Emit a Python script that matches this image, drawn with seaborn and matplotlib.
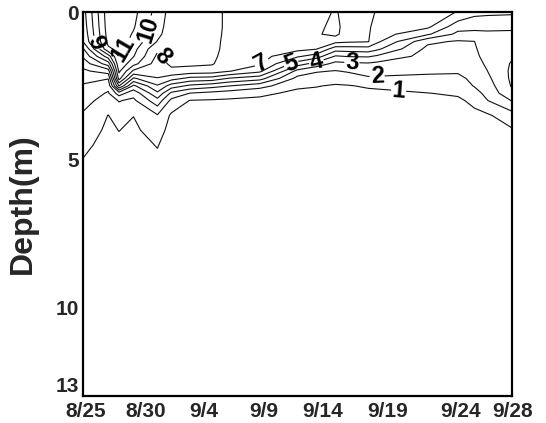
import numpy as np
import matplotlib
matplotlib.use("Agg")
import matplotlib.pyplot as plt
import seaborn as sns

## 1. Data
# station positions (days after 8/25) and sample depths (m)
days = [0, 2.0, 2.85, 4.0, 5.9, 7.0, 8.5, 10.2, 11.6, 14.0, 17.0,
        18.5, 20.0, 21.0, 22.6, 23.3, 27.3, 29.7, 31.0, 32.0, 34.0]
depths = [0, 0.5, 0.75, 1.0, 1.25, 1.5, 1.75, 2.0, 2.25, 2.5, 2.75,
          3.0, 3.5, 4.0, 4.5, 5.0, 6.0, 13.0]

# one profile per station, top to bottom
s00 = [7.6, 7.4, 7.25, 7.02, 5.86, 5.14, 4.43, 3.8, 3.3, 2.89, 2.61, 2.33, 1.88, 1.57, 1.27, 0.97, 0.6, 0]
s01 = [11.6, 11.5, 11.4, 11.3, 10.8, 8.5, 6.5, 4.5, 3.05, 2.3, 1.9, 1.6, 0.98, 0.8, 0.6, 0.5, 0.3, 0]
s02 = [11.8, 11.7, 11.6, 11.5, 11.3, 11.1, 10.8, 10.2, 9.4, 7.05, 3.5, 2.05, 1.5, 1.02, 0.8, 0.6, 0.35, 0]
s03 = [11.3, 11.1, 10.9, 10.7, 10.35, 10.05, 9.35, 7.8, 5.85, 3.8, 2.35, 1.8, 1.02, 0.8, 0.6, 0.5, 0.3, 0]
s04 = [9.6, 9.4, 9.25, 8.95, 8.15, 7.8, 7.52, 7.26, 6.97, 5.88, 4.8, 3.62, 1.92, 1.48, 1.06, 0.8, 0.4, 0]
s05 = [8.6, 8.5, 8.45, 8.4, 8.35, 8.3, 8.2, 7.77, 6.38, 4.54, 2.76, 1.73, 0.85, 0.6, 0.45, 0.35, 0.2, 0]
s06 = [8.5, 8.45, 8.42, 8.4, 8.35, 8.3, 8.2, 7.6, 5.7, 3.77, 1.96, 0.95, 0.6, 0.45, 0.35, 0.3, 0.2, 0]
s07 = [8.3, 8.3, 8.28, 8.25, 8.25, 8.2, 8.1, 7.5, 5.6, 3.4, 1.7, 0.9, 0.6, 0.45, 0.35, 0.3, 0.2, 0]
s08 = [7.8, 7.8, 7.78, 7.75, 7.7, 7.6, 7.4, 7.05, 4.9, 3.02, 1.5, 0.85, 0.6, 0.45, 0.35, 0.3, 0.2, 0]
s09 = [7.7, 7.65, 7.62, 7.6, 7.55, 7.4, 7.15, 6.25, 4.4, 2.4, 1.2, 0.8, 0.5, 0.4, 0.3, 0.25, 0.15, 0]
s10 = [7.7, 7.65, 7.62, 7.6, 7.3, 6.15, 4.5, 2.67, 1.68, 1.15, 0.8, 0.6, 0.45, 0.35, 0.3, 0.25, 0.15, 0]
s11 = [7.6, 7.75, 7.9, 7.85, 7.05, 5.5, 3.6, 2.1, 1.5, 1.05, 0.75, 0.6, 0.45, 0.35, 0.3, 0.25, 0.15, 0]
s12 = [8.1, 8.3, 8.25, 7.3, 5.45, 3.9, 2.7, 1.95, 1.4, 0.9, 0.7, 0.55, 0.4, 0.3, 0.25, 0.2, 0.1, 0]
s13 = [7.6, 7.5, 7.4, 7.15, 5.5, 4.05, 2.8, 2.1, 1.5, 0.95, 0.7, 0.55, 0.4, 0.3, 0.25, 0.2, 0.1, 0]
s14 = [7.15, 7.12, 7.1, 7.05, 5.6, 4.1, 2.88, 2.4, 1.85, 1.1, 0.8, 0.6, 0.45, 0.35, 0.3, 0.25, 0.15, 0]
s15 = [6.95, 6.7, 6.5, 6.2, 5.2, 3.85, 2.75, 2.33, 1.85, 1.15, 0.8, 0.6, 0.45, 0.35, 0.3, 0.25, 0.15, 0]
s16 = [6.6, 6.2, 5.15, 3.2, 2.75, 2.6, 2.4, 2.15, 1.8, 1.4, 0.98, 0.75, 0.55, 0.4, 0.3, 0.25, 0.15, 0]
s17 = [5.95, 4.4, 3.75, 2.9, 2.7, 2.5, 2.3, 2.1, 1.8, 1.5, 1.12, 0.85, 0.6, 0.45, 0.35, 0.3, 0.2, 0]
s18 = [5.3, 4.3, 3.7, 2.98, 2.85, 2.75, 2.6, 2.4, 2.2, 2.05, 1.65, 1.2, 0.8, 0.6, 0.45, 0.35, 0.2, 0]
s19 = [5.25, 4.2, 3.85, 3.7, 3.55, 3.35, 3.15, 2.97, 2.75, 2.5, 2.25, 1.95, 0.85, 0.6, 0.45, 0.35, 0.2, 0]
s20 = [5.2, 4.1, 3.9, 3.85, 3.8, 3.9, 4.1, 4.2, 4.2, 4.1, 3.8, 3.05, 1.6, 0.9, 0.6, 0.45, 0.25, 0]

levels = [1, 2, 3, 4, 5, 6, 7, 8, 9, 10, 11]
date_labels = ["8/25", "8/30", "9/4", "9/9", "9/14", "9/19", "9/24", "9/28"]
depth_labels = [0, 5, 10, 13]

## 2. Layout
date_label_pos = [0.2, 5.0, 9.6, 14.3, 19.0, 24.1, 29.9, 34.0]
# (day, depth) near which each contour label sits; level 6 has none
label_spots = {9: (1.2, 1.0), 11: (3.4, 1.3), 10: (4.9, 0.55), 8: (6.3, 1.5),
               7: (14.2, 1.75), 5: (16.6, 1.9), 4: (18.6, 1.85), 3: (21.3, 1.75),
               2: (23.3, 2.15), 1: (25.0, 2.7)}

grid = np.column_stack([s00, s01, s02, s03, s04, s05, s06, s07, s08, s09, s10,
                        s11, s12, s13, s14, s15, s16, s17, s18, s19, s20])

## 3. Plot
sns.set_style("white")
plt.rcParams['font.family'] = ['Liberation Sans', 'DejaVu Sans']

fig, ax = plt.subplots(figsize=(5.46, 4.23), dpi=100)
fig.subplots_adjust(left=0.152, right=0.938, top=0.9716, bottom=0.0638)

ax.set_xlim(0, 34)
ax.set_ylim(13, 0)

# one contour set per level so each label lands on its own line
for lev in levels:
    cs = ax.contour(days, depths, grid, levels=[lev], colors='#111111', linewidths=0.8)
    if lev in label_spots:
        texts = ax.clabel(cs, manual=[label_spots[lev]], fmt='%d', fontsize=17,
                          inline=True, inline_spacing=1)
        for t in texts:
            t.set_fontweight('bold')
            t.set_color('black')

ax.set_xticks(date_label_pos)
ax.set_xticklabels(date_labels)
ax.set_xticks(np.arange(1, 34, 2), minor=True)
ax.set_yticks(depth_labels)
ax.set_yticklabels([str(d) for d in depth_labels])
ax.set_yticks(np.arange(0, 14, 1), minor=True)

ax.tick_params(axis='x', which='major', length=0, pad=4, labelsize=15)
ax.tick_params(axis='y', which='major', direction='in', length=6, width=1, pad=3, labelsize=15)
ax.tick_params(axis='both', which='minor', direction='in', length=6, width=1)
for lab in ax.get_xticklabels() + ax.get_yticklabels():
    lab.set_fontweight('bold')
# the bottom depth label sits just above the corner
ax.get_yticklabels()[-1].set_verticalalignment('bottom')

for sp in ax.spines.values():
    sp.set_linewidth(1.6)
    sp.set_color('black')

ax.set_ylabel("Depth(m)", fontsize=23, fontweight='bold')
ax.yaxis.set_label_coords(-0.105, 0.5)

plt.savefig("out.png", dpi=100)
